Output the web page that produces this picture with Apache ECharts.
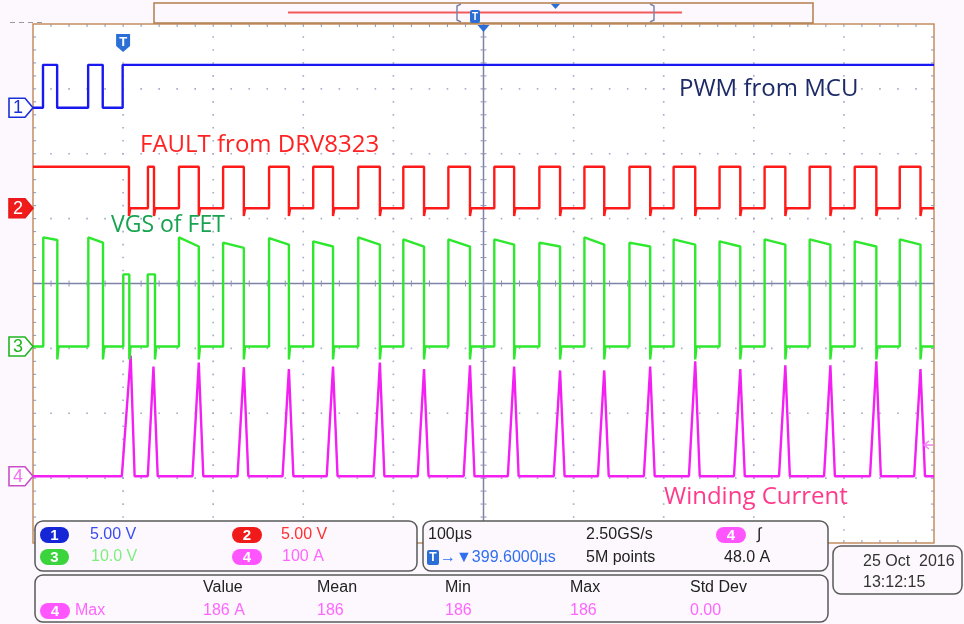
<!DOCTYPE html>
<html>
<head>
<meta charset="utf-8">
<script src="https://cdn.jsdelivr.net/npm/echarts@6/dist/echarts.min.js"></script>
<style>
  html, body { margin: 0; padding: 0; background: #fdf8fd; }
  #scope { width: 964px; height: 624px; }
</style>
</head>
<body>
<div id="scope"></div>
<script>
// ---- horizontal: time in microseconds relative to the trigger (100 us/div) ----
const T_MIN = -100, T_MAX = 900, T_DIV = 100, T_CENTRE = 400;
const timeTicks = [-100, 0, 100, 200, 300, 400, 500, 600, 700, 800, 900];

// ---- channel settings: units per division and ground marker (divisions from centre) ----
const ch1Scale = 5,   ch1Offset = 2.71;   // V/div
const ch2Scale = 5,   ch2Offset = 1.16;   // V/div
const ch3Scale = 10,  ch3Offset = -0.97;  // V/div
const ch4Scale = 100, ch4Offset = -2.97;  // A/div

// ---- CH1: PWM from MCU (V) ----
const ch1Rise = [-88.9, -38.8, -0.5];
const ch1Fall = [-73.2, -22.6, null];
const ch1High = 3.3, ch1Low = 0;

// ---- CH2: nFAULT from DRV8323 (V) ----
const ch2Rise = [-100, 27.6, 62, 111, 162, 211, 261, 311, 361, 412, 462, 512, 562, 611, 662, 712, 762, 812, 862];
const ch2Fall = [6.5, 34.3, 84, 134, 184, 233, 285, 334, 385, 434, 485, 534, 585, 635, 685, 735, 785, 836, 885];
const ch2High = 3.2, ch2Low = 0, ch2Undershoot = -0.6;

// ---- CH3: VGS of FET (V) ----
const ch3Rise = [-88.6, -38.6, 0.2, 27.3, 62, 111, 162, 211, 261, 311, 361, 412, 462, 512, 562, 611, 662, 712, 762, 812, 862];
const ch3Fall = [-73.0, -22.3, 6.9, 35.4, 84, 134, 184, 233, 285, 334, 385, 434, 485, 534, 585, 635, 685, 735, 785, 836, 885];
const ch3TopStart = [16.8, 16.8, 11.1, 11.1, 16.8, 16.0, 16.7, 16.2, 16.8, 16.5, 16.5, 16.5, 16.0, 16.8, 16.0, 16.5, 16.2, 16.5, 16.5, 16.2, 16.5];
const ch3TopEnd   = [16.4, 16.0, 11.1, 11.1, 15.4, 15.2, 15.7, 15.4, 15.7, 15.4, 15.4, 15.7, 15.4, 15.7, 15.4, 15.7, 15.4, 15.7, 15.7, 15.4, 15.7];
const ch3Low = 0, ch3Undershoot = -2.0;

// ---- CH4: winding current (A) ----
const ch4SpikeStart = [-1.4, 27.4, 77, 127, 177, 226, 278, 327, 378, 427, 478, 527, 578, 628, 678, 728, 778, 829, 878];
const ch4SpikePeakT = [8.4, 33.7, 84, 134, 184, 233, 285, 334, 385, 434, 485, 534, 585, 635, 685, 735, 785, 836, 885];
const ch4SpikeEnd   = [12.8, 38.4, 89, 139, 189, 238, 290, 339, 390, 439, 490, 539, 590, 640, 690, 740, 790, 841, 890];
const ch4SpikePeak  = [186, 169, 175, 168, 165, 169, 175, 165, 171, 169, 163, 163, 169, 177, 165, 171, 171, 177, 165];
const ch4Base = 0;
const ch4TriggerLevel = 48.0;

// ---- readouts ----
const channelScaleTexts = ['5.00 V', '5.00 V', '10.0 V', '100 A'];
const measHeaders = ['Value', 'Mean', 'Min', 'Max', 'Std Dev'];
const measValues  = ['186 A', '186', '186', '186', '0.00'];

// level (number or per-pulse array) lookup
function lv(level, i) { return Array.isArray(level) ? level[i] : level; }

// square-ish pulse train in screen divisions
function pulseTrace(rise, fall, topStart, topEnd, low, undershoot, scale, offset) {
  const d = v => offset + v / scale;
  const pts = [];
  if (rise[0] > T_MIN) pts.push([T_MIN, d(low)]);
  for (let i = 0; i < rise.length; i++) {
    const r = Math.max(rise[i], T_MIN);
    if (rise[i] > T_MIN) pts.push([r, d(low)]);
    pts.push([r, d(lv(topStart, i))]);
    if (fall[i] == null) { pts.push([T_MAX, d(lv(topEnd, i))]); return pts; }
    pts.push([fall[i], d(lv(topEnd, i))]);
    if (undershoot !== low) {
      pts.push([fall[i], d(undershoot)]);
      pts.push([fall[i] + 1.4, d(low)]);
    } else {
      pts.push([fall[i], d(low)]);
    }
  }
  pts.push([T_MAX, d(low)]);
  return pts;
}

function spikeTrace(start, peakT, end, peak, base, scale, offset) {
  const d = v => offset + v / scale;
  const pts = [[T_MIN, d(base)]];
  for (let i = 0; i < start.length; i++) {
    pts.push([start[i], d(base)]);
    pts.push([peakT[i], d(peak[i])]);
    pts.push([end[i], d(base)]);
  }
  pts.push([T_MAX, d(base)]);
  return pts;
}

const ch1Data = pulseTrace(ch1Rise, ch1Fall, ch1High, ch1High, ch1Low, ch1Low, ch1Scale, ch1Offset);
const ch2Data = pulseTrace(ch2Rise, ch2Fall, ch2High, ch2High, ch2Low, ch2Undershoot, ch2Scale, ch2Offset);
const ch3Data = pulseTrace(ch3Rise, ch3Fall, ch3TopStart, ch3TopEnd, ch3Low, ch3Undershoot, ch3Scale, ch3Offset);
const ch4Data = spikeTrace(ch4SpikeStart, ch4SpikePeakT, ch4SpikeEnd, ch4SpikePeak, ch4Base, ch4Scale, ch4Offset);

// graticule: dotted division lines, centre cross and border ticks
function renderGraticule(params, api) {
  const kids = [];
  const dot = '#a3a9c8';
  const tick = '#8d93b4';
  const P = (t, v) => api.coord([t, v]);
  const line = (a, b, color, w) => kids.push({ type: 'line', shape: { x1: a[0], y1: a[1], x2: b[0], y2: b[1] }, style: { stroke: color, lineWidth: w } });
  const pix = (pt, s, c) => kids.push({ type: 'rect', shape: { x: pt[0] - s / 2, y: pt[1] - s / 2, width: s, height: s }, style: { fill: c } });
  // vertical dotted lines
  for (let t = T_MIN + T_DIV; t < T_MAX; t += T_DIV) {
    if (t === T_CENTRE) continue;
    for (let k = 1; k < 40; k++) pix(P(t, -4 + k * 0.2), 1.6, dot);
  }
  // horizontal dotted lines
  for (let v = -3; v <= 3; v++) {
    if (v === 0) continue;
    for (let k = 1; k < 50; k++) pix(P(T_MIN + k * 20, v), 1.6, dot);
  }
  // border ticks
  for (let k = 1; k < 50; k++) {
    const t = T_MIN + k * 20;
    const top = P(t, 4), bot = P(t, -4);
    line(top, [top[0], top[1] + 3], tick, 1);
    line(bot, [bot[0], bot[1] - 3], tick, 1);
  }
  for (let k = 1; k < 40; k++) {
    const v = -4 + k * 0.2;
    const l = P(T_MIN, v), r = P(T_MAX, v);
    line(l, [l[0] + 3, l[1]], tick, 1);
    line(r, [r[0] - 3, r[1]], tick, 1);
  }
  // centre cross with minor ticks
  line(P(T_MIN, 0), P(T_MAX, 0), '#7d84a8', 1.5);
  line(P(T_CENTRE, -4), P(T_CENTRE, 4), '#7d84a8', 1.5);
  for (let k = 1; k < 50; k++) {
    const c = P(T_MIN + k * 20, 0);
    line([c[0], c[1] - 3], [c[0], c[1] + 3], tick, 1);
  }
  for (let k = 1; k < 40; k++) {
    const c = P(T_CENTRE, -4 + k * 0.2);
    line([c[0] - 3, c[1]], [c[0] + 3, c[1]], tick, 1);
  }
  return { type: 'group', children: kids };
}

const chart = echarts.init(document.getElementById('scope'), null, { renderer: 'canvas' });

const traceSeries = (name, data, color, z) => ({
  name, type: 'line', data, showSymbol: false, symbol: 'none', z,
  lineStyle: { color, width: 2.4 }, animation: false, silent: true, clip: true
});

chart.setOption({
  backgroundColor: '#fdf8fd',
  animation: false,
  grid: { left: 33, top: 24, width: 901, height: 519, show: true, backgroundColor: '#ffffff', borderColor: '#c48f60', borderWidth: 1.5 },
  xAxis: { type: 'value', min: T_MIN, max: T_MAX, interval: T_DIV, axisLine: { show: false }, axisTick: { show: false }, axisLabel: { show: false }, splitLine: { show: false } },
  yAxis: { type: 'value', min: -4, max: 4, interval: 1, axisLine: { show: false }, axisTick: { show: false }, axisLabel: { show: false }, splitLine: { show: false } },
  series: [
    { type: 'custom', renderItem: renderGraticule, data: [[0, 0]], silent: true, z: 1, clip: false },
    traceSeries('CH4', ch4Data, '#f31ff3', 3),
    traceSeries('CH3', ch3Data, '#2ee82e', 4),
    traceSeries('CH2', ch2Data, '#ff1a1a', 5),
    traceSeries('CH1', ch1Data, '#1818f0', 6)
  ]
});

// ---- screen furniture (markers, labels, readouts) ----
const px = (t, v) => chart.convertToPixel({ gridIndex: 0 }, [t, v]);
const UI = "'Liberation Sans', Arial, sans-serif";
const LBL = "'Open Sans', 'Noto Sans', sans-serif";

function chMarker(y, label, stroke, fill, textColor) {
  const pts = [[9, y - 9.5], [25, y - 9.5], [33, y], [25, y + 9.5], [9, y + 9.5]];
  return [
    { type: 'polygon', shape: { points: pts }, style: { fill, stroke, lineWidth: 1.6 }, z: 20 },
    { type: 'text', x: 18, y: y + 0.5, style: { text: label, fill: textColor, font: "18px " + UI, align: 'center', verticalAlign: 'middle' }, z: 21 }
  ];
}

function pill(x, y, w, h, color, label) {
  return [
    { type: 'rect', shape: { x, y, width: w, height: h, r: h / 2 }, style: { fill: color }, z: 30 },
    { type: 'text', x: x + w / 2, y: y + h / 2 + 0.5, style: { text: label, fill: '#ffffff', font: "bold 15px " + UI, align: 'center', verticalAlign: 'middle' }, z: 31 }
  ];
}

function txt(x, y, s, color, font, align) {
  return { type: 'text', x, y, style: { text: s, fill: color, font, align: align || 'left', verticalAlign: 'middle' }, z: 31 };
}

function panel(x, y, w, h) {
  return { type: 'rect', shape: { x, y, width: w, height: h, r: 8 }, style: { fill: '#fdf8fd', stroke: '#5a5a5a', lineWidth: 1.5 }, z: 29 };
}

const y1 = px(0, ch1Offset)[1], y2 = px(0, ch2Offset)[1], y3 = px(0, ch3Offset)[1], y4 = px(0, ch4Offset)[1];
const trigX = px(0, 0)[0];
const centreX = px(T_CENTRE, 0)[0];
const topY = px(0, 4)[1];
const rightX = px(T_MAX, 0)[0];
const trigLvlY = px(0, ch4Offset + ch4TriggerLevel / ch4Scale)[1];

const g = [];
// record-length bar at the top
g.push({ type: 'line', shape: { x1: 10, y1: 22.5, x2: 46, y2: 22.5 }, style: { stroke: '#9a9a9a', lineWidth: 1, lineDash: [5, 4] }, z: 10 });
g.push({ type: 'rect', shape: { x: 154, y: 3, width: 659, height: 20 }, style: { fill: '#fdf8fd', stroke: '#b17d4c', lineWidth: 1.5 }, z: 10 });
g.push({ type: 'line', shape: { x1: 288, y1: 12.5, x2: 682, y2: 12.5 }, style: { stroke: '#f25a5a', lineWidth: 2 }, z: 11 });
g.push({ type: 'polyline', shape: { points: [[461, 4], [457, 6], [457, 20], [461, 22]] }, style: { stroke: '#7d84a8', lineWidth: 1.5, fill: null }, z: 12 });
g.push({ type: 'polyline', shape: { points: [[650, 4], [654, 6], [654, 20], [650, 22]] }, style: { stroke: '#7d84a8', lineWidth: 1.5, fill: null }, z: 12 });
g.push({ type: 'polygon', shape: { points: [[551, 4], [560, 4], [555.5, 9]] }, style: { fill: '#2b6fd6' }, z: 12 });
g.push({ type: 'rect', shape: { x: 470, y: 10, width: 10, height: 13, r: 2 }, style: { fill: '#2b6fd6' }, z: 12 });
g.push(txt(475, 17, 'T', '#ffffff', 'bold 10px ' + UI, 'center'));
// horizontal position marker
g.push({ type: 'polygon', shape: { points: [[centreX - 6, topY + 1], [centreX + 6, topY + 1], [centreX, topY + 8]] }, style: { fill: '#2b6fd6' }, z: 12 });
// trigger-point marker
g.push({ type: 'polygon', shape: { points: [[trigX - 7, 34], [trigX + 7, 34], [trigX + 7, 46], [trigX, 52], [trigX - 7, 46]] }, style: { fill: '#2b6fd6' }, z: 12 });
g.push(txt(trigX, 42, 'T', '#ffffff', 'bold 13px ' + UI, 'center'));
// trigger level arrow on CH4
g.push({ type: 'line', shape: { x1: rightX - 10, y1: trigLvlY, x2: rightX - 1, y2: trigLvlY }, style: { stroke: '#f37ff3', lineWidth: 1.5 }, z: 12 });
g.push({ type: 'polyline', shape: { points: [[rightX - 5, trigLvlY - 4], [rightX - 10, trigLvlY], [rightX - 5, trigLvlY + 4]] }, style: { stroke: '#f37ff3', lineWidth: 1.5, fill: null }, z: 12 });

// channel ground markers
g.push(...chMarker(y1, '1', '#1a2fd8', '#ffffff', '#1a2fd8'));
g.push(...chMarker(y2, '2', '#e81818', '#f01c1c', '#ffffff'));
g.push(...chMarker(y3, '3', '#22b422', '#ffffff', '#22b422'));
g.push(...chMarker(y4, '4', '#c84fc8', '#ffffff', '#f070f0'));

// trace annotations
g.push(txt(679, 89, 'PWM from MCU', '#1c2a66', '24px ' + LBL));
g.push(txt(140, 145, 'FAULT from DRV8323', '#ff2222', '24px ' + LBL));
g.push(txt(111, 225, 'VGS of FET', '#17a34f', '23px ' + LBL));
g.push(txt(664, 497, 'Winding Current', '#ff3a8c', '24px ' + LBL));

// vertical settings panel
const F = '16px ' + UI;
g.push(panel(35, 521, 382, 50));
g.push(...pill(40, 527, 29, 16, '#1426d6', '1'));
g.push(txt(90, 535, channelScaleTexts[0], '#3a4cf0', F));
g.push(...pill(232, 527, 30, 16, '#f01a1a', '2'));
g.push(txt(281, 535, channelScaleTexts[1], '#ff3030', F));
g.push(...pill(40, 549, 29, 16, '#3cd43c', '3'));
g.push(txt(91, 557, channelScaleTexts[2], '#7eee7e', F));
g.push(...pill(232, 549, 30, 16, '#ff55ff', '4'));
g.push(txt(282, 557, channelScaleTexts[3], '#ff66ff', F));

// horizontal / trigger panel
g.push(panel(423, 521, 405, 50));
g.push(txt(428, 535, '100µs', '#222222', F));
g.push(txt(586, 535, '2.50GS/s', '#222222', F));
g.push(...pill(716, 527, 30, 16, '#ff55ff', '4'));
g.push(txt(757, 535, '∫', '#222222', '16px ' + UI));
g.push({ type: 'rect', shape: { x: 427, y: 550, width: 12, height: 15, r: 2 }, style: { fill: '#2b6fd6' }, z: 31 });
g.push(txt(433, 558, 'T', '#ffffff', 'bold 12px ' + UI, 'center'));
g.push(txt(440, 558, '→▼399.6000µs', '#2f6ff0', F));
g.push(txt(586, 558, '5M points', '#222222', F));
g.push(txt(724, 558, '48.0 A', '#222222', F));

// measurement panel
g.push(panel(35, 575, 793, 47));
const colX = [203, 317, 445, 570, 690];
measHeaders.forEach((h, i) => g.push(txt(colX[i], 588, h, '#222222', F)));
g.push(...pill(40, 603, 30, 16, '#ff55ff', '4'));
g.push(txt(75, 611, 'Max', '#ff66ff', F));
measValues.forEach((v, i) => g.push(txt(colX[i], 611, v, '#ff66ff', F)));

// date box
g.push(panel(833, 546, 129, 48));
g.push(txt(863, 562, '25 Oct  2016', '#333333', F));
g.push(txt(863, 583, '13:12:15', '#333333', F));

chart.setOption({ graphic: { elements: g } });
</script>
</body>
</html>
